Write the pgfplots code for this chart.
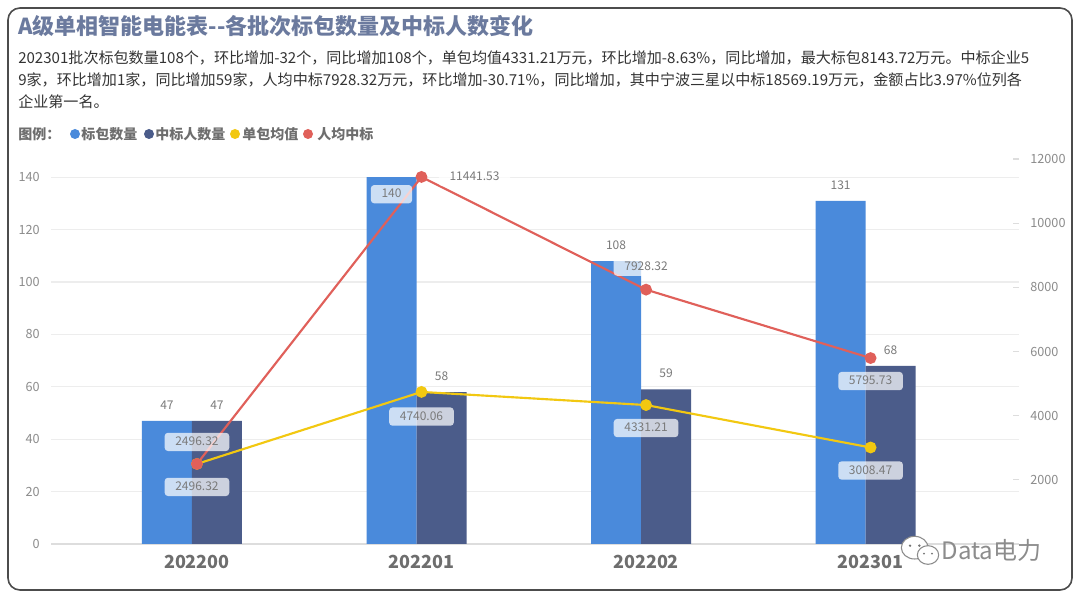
\documentclass[border=0pt]{standalone}
\usepackage{fontspec}
\setmainfont{Noto Sans CJK SC}
\usepackage{pgfplots}
\pgfplotsset{compat=1.18}
\usepackage{pgfplotstable}

\definecolor{cblue}{HTML}{4A8ADB}
\definecolor{cdark}{HTML}{4B5C8A}
\definecolor{cyellow}{HTML}{F2C811}
\definecolor{cred}{HTML}{E0605A}
\definecolor{ctitle}{HTML}{6B7A9E}
\definecolor{cgrid}{HTML}{EDEDED}
\definecolor{caxis}{HTML}{DDDDDD}
\definecolor{ctick}{HTML}{8C8C8C}
\definecolor{ccat}{HTML}{6E6E6E}
\definecolor{clbl}{HTML}{7A7A7A}
\definecolor{ctext}{HTML}{333333}

\pgfplotstableread{
x bid win avg per
0 47 47 2496.32 2496.32
1 140 58 4740.06 11441.53
2 108 59 4331.21 7928.32
3 131 68 3008.47 5795.73
}\datatable

\begin{document}
\begin{tikzpicture}[
  lbl/.style={fill=white, fill opacity=0.72, text opacity=1, rounded corners=2.5pt,
    text=clbl, font=\fontsize{9}{10}\selectfont, inner xsep=8pt, inner ysep=2.6pt,
    text height=7pt, text depth=1.5pt},
  blbl/.style={text=clbl, font=\fontsize{9}{10}\selectfont, inner sep=1pt},
  body/.style={anchor=base west, inner sep=0pt, text=ctext, font=\fontsize{11.3}{16.1}\selectfont},
  leg/.style={anchor=west, inner sep=0pt, text=ccat, font=\fontsize{10.5}{12}\selectfont\bfseries}
]
% background and frame
\fill[white] (0,0) rectangle (810pt,449.25pt);
\draw[color=black!70, line width=1.2pt, rounded corners=9pt] (6pt,6.75pt) rectangle (804pt,443.25pt);

% title
\node[anchor=base west, inner sep=0pt, text=ctitle, font=\fontsize{16.5}{19}\selectfont\bfseries]
  at (13.5pt,423pt) {A级单相智能电能表-{}-各批次标包数量及中标人数变化};
% body
\node[body] at (13.5pt,401.25pt) {202301批次标包数量108个，环比增加-32个，同比增加108个，单包均值4331.21万元，环比增加-8.63\%，同比增加，最大标包8143.72万元。中标企业5};
\node[body] at (13.5pt,384.75pt) {9家，环比增加1家，同比增加59家，人均中标7928.32万元，环比增加-30.71\%，同比增加，其中宁波三星以中标18569.19万元，金额占比3.97\%位列各};
\node[body] at (13.5pt,368.6pt) {企业第一名。};

% legend
\node[leg] at (13.5pt,348.75pt) {图例：};
\fill[cblue] (56.25pt,348.75pt) circle (3.75pt);
\node[leg] at (60.75pt,348.75pt) {标包数量};
\fill[cdark] (111.75pt,348.75pt) circle (3.75pt);
\node[leg] at (116.25pt,348.75pt) {中标人数量};
\fill[cyellow] (176.25pt,348.75pt) circle (3.75pt);
\node[leg] at (181.5pt,348.75pt) {单包均值};
\fill[cred] (231pt,348.75pt) circle (3.75pt);
\node[leg] at (237.75pt,348.75pt) {人均中标};

% primary axis: bars
\begin{axis}[
  at={(38.25pt,41.25pt)}, anchor=south west,
  scale only axis, width=726pt, height=294.75pt,
  xmin=-0.65, xmax=3.661, ymin=0, ymax=150,
  axis x line*=bottom, axis y line*=left,
  y axis line style={draw=none},
  x axis line style={draw=caxis, line width=0.9pt},
  xtick={0,1,2,3}, xticklabels={202200,202201,202202,202301},
  xticklabel style={font=\fontsize{13.5}{15}\selectfont\bfseries, text=ccat, yshift=-4.5pt},
  ytick={0,20,...,140},
  ymajorgrids, grid style={cgrid, line width=0.8pt},
  major tick length=0pt,
  yticklabel style={font=\fontsize{9.5}{11}\selectfont, text=ctick, xshift=-5pt},
  /pgf/number format/assume math mode=true,
  clip=false,
]
\addplot[ybar, bar width=37.5pt, bar shift=-22.5pt, fill=cblue, draw=none] table[x=x,y=bid]{\datatable};
\addplot[ybar, bar width=37.5pt, bar shift=15pt, fill=cdark, draw=none] table[x=x,y=win]{\datatable};
\coordinate (a0) at (axis cs:0,47);
\coordinate (a1) at (axis cs:1,140);
\coordinate (a2) at (axis cs:2,108);
\coordinate (a3) at (axis cs:3,131);
\coordinate (d0) at (axis cs:0,47);
\coordinate (d1) at (axis cs:1,58);
\coordinate (d2) at (axis cs:2,59);
\coordinate (d3) at (axis cs:3,68);
\end{axis}

% secondary axis: lines
\begin{axis}[
  at={(38.25pt,41.25pt)}, anchor=south west,
  scale only axis, width=726pt, height=294.75pt,
  xmin=-0.65, xmax=3.661, ymin=0, ymax=12250,
  axis y line*=right, axis x line=none,
  y axis line style={draw=none},
  ytick={2000,4000,...,12000},
  scaled y ticks=false,
  /pgf/number format/1000 sep={},
  tick align=inside, major tick length=4.5pt,
  tick style={caxis, line width=0.8pt},
  yticklabel style={font=\fontsize{9.5}{11}\selectfont, text=ctick, anchor=west, xshift=5pt},
  /pgf/number format/assume math mode=true,
  clip=false,
]
\addplot[cyellow, line width=1.6pt, mark=*, mark size=3.6pt, mark options={fill=cyellow, draw=cyellow}] table[x=x,y=avg]{\datatable};
\addplot[cred, line width=1.6pt, mark=*, mark size=3.6pt, mark options={fill=cred, draw=cred}] table[x=x,y=per]{\datatable};

\node[lbl, yshift=16.5pt] at (axis cs:0,2496.32) {2496.32};
\node[lbl, yshift=-17.25pt] at (axis cs:0,2496.32) {2496.32};
\node[lbl, xshift=39.75pt] at (axis cs:1,11441.53) {11441.53};
\node[lbl, yshift=-18.5pt] at (axis cs:1,4740.06) {4740.06};
\node[lbl, yshift=17.25pt] at (axis cs:2,7928.32) {7928.32};
\node[lbl, yshift=-17.25pt] at (axis cs:2,4331.21) {4331.21};
\node[lbl, yshift=-17.25pt] at (axis cs:3,5795.73) {5795.73};
\node[lbl, yshift=-17.25pt] at (axis cs:3,3008.47) {3008.47};
\end{axis}

% bar labels
\node[blbl] at ([xshift=-22.5pt, yshift=12pt]a0) {47};
\node[lbl] at ([xshift=-22.5pt, yshift=-12.75pt]a1) {140};
\node[blbl] at ([xshift=-22.5pt, yshift=12pt]a2) {108};
\node[blbl] at ([xshift=-22.5pt, yshift=12pt]a3) {131};
\node[blbl] at ([xshift=15pt, yshift=12pt]d0) {47};
\node[blbl] at ([xshift=15pt, yshift=12pt]d1) {58};
\node[blbl] at ([xshift=15pt, yshift=12pt]d2) {59};
\node[blbl] at ([xshift=15pt, yshift=12pt]d3) {68};

% watermark
\draw[black!45, line width=0.8pt, fill=white] (686pt,38.5pt) ellipse (10pt and 8.5pt);
\fill[black!55] (682.5pt,40pt) circle (1pt) (689.5pt,40pt) circle (1pt);
\draw[black!45, line width=0.8pt, fill=white] (696pt,33pt) ellipse (8pt and 7pt);
\fill[black!55] (693pt,34pt) circle (0.8pt) (699pt,34pt) circle (0.8pt);
\node[anchor=west, inner sep=0pt, text=black!45, font=\fontsize{18}{20}\selectfont] at (706pt,36.75pt) {Data电力};
\end{tikzpicture}
\end{document}
